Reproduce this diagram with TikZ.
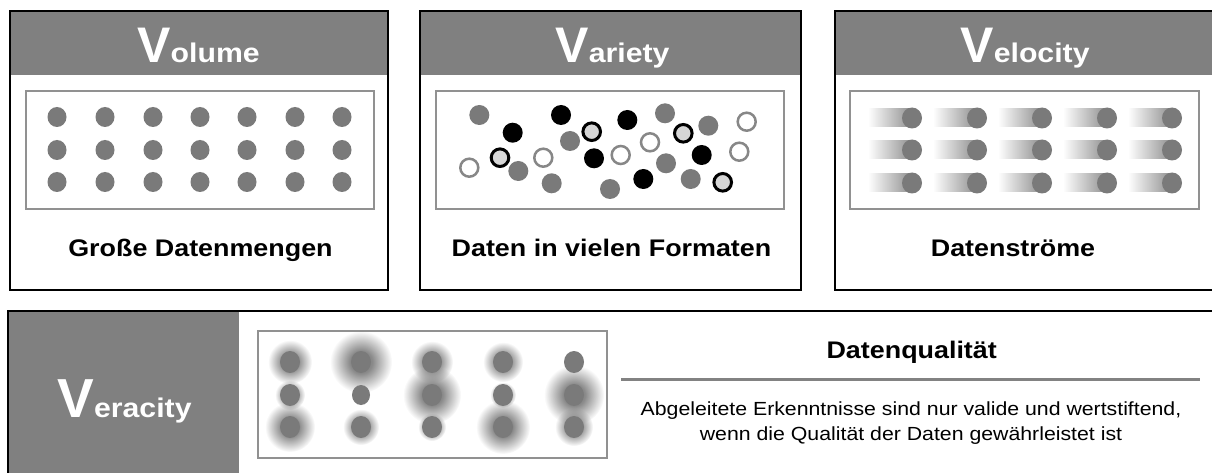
\documentclass[tikz,border=0pt]{standalone}
\usepackage{fontspec}
\setmainfont{Liberation Sans}[FakeStretch=1.12]
\newfontfamily\bigvfont{Liberation Sans}
\usetikzlibrary{fadings}

\definecolor{headgray}{RGB}{128,128,128}
\definecolor{dotgray}{RGB}{122,122,122}
\definecolor{framegray}{RGB}{145,145,145}
\definecolor{ringgray}{RGB}{135,135,135}
\definecolor{lightfill}{RGB}{214,214,214}
\definecolor{rulegray}{RGB}{130,130,130}

% soft radial halo: opaque core, fading out towards the rim
\pgfdeclareradialshading{haloshade}{\pgfpointorigin}{%
  color(0bp)=(white); color(9bp)=(white!88!black);
  color(25bp)=(black); color(50bp)=(black)}
\pgfdeclarefading{halofade}{\pgfuseshading{haloshade}}

% big initial V followed by the rest of the word
\newcommand\vword[2]{{\bigvfont\bfseries\fontsize{#2}{#2}\selectfont V}{\bfseries\fontsize{27}{27}\selectfont #1}}

\begin{document}
\begin{tikzpicture}[x=1pt,y=-1pt,
  panel/.style={draw=black,line width=2.5pt},
  header/.style={fill=headgray},
  frame/.style={draw=framegray,line width=1.5pt,fill=white},
  title/.style={anchor=base,inner sep=0pt,text=white},
  caption/.style={anchor=base,inner sep=0pt,font=\bfseries\fontsize{24}{24}\selectfont},
  body/.style={anchor=base,inner sep=0pt,font=\fontsize{19}{19}\selectfont},
  gdot/.style={fill=dotgray},
  bdot/.style={fill=black},
  ring/.style={draw=ringgray,line width=2.5pt,fill=white},
  lring/.style={draw=black,line width=3pt,fill=lightfill},
  halo/.style={fill=dotgray,path fading=halofade},
  trail/.style={left color=white,right color=dotgray!85}]

\useasboundingbox (0,0) rectangle (1212,473);
\fill[white] (0,0) rectangle (1212,473);

% ---------- Volume ----------
\fill[header] (10,11) rectangle (388,75);
\draw[panel] (10,11) rectangle (388,290);
\node[title] (tvol) at (198.5,63) {\vword{olume}{50}};
\draw[frame] (26,91) rectangle (374,209);
\foreach \x in {57,105,153,200,247,295,342}
  \foreach \y in {117,150,182}
    \fill[gdot] (\x,\y) ellipse [x radius=9.5,y radius=10];
\node[caption] (cvol) at (200.5,256.7) {Große Datenmengen};

% ---------- Variety ----------
\fill[header] (420,11) rectangle (801,75);
\draw[panel] (420,11) rectangle (801,290);
\node[title] (tvar) at (612.5,63) {\vword{ariety}{50}};
\draw[frame] (436,91) rectangle (784,209);
\foreach \x/\y in {479.3/115, 518.3/171, 551.7/183.3, 570/141, 610/189,
                   665/113.3, 666/163.3, 708.3/125.7, 690.7/179}
  \fill[gdot] (\x,\y) circle (10);
\foreach \x/\y in {512.7/132.7, 561/115, 594/158.3, 627.3/120, 643.3/179, 701.7/155}
  \fill[bdot] (\x,\y) circle (10);
\foreach \x/\y in {469.3/167.7, 543.3/157.7, 620.7/155, 650/142.3, 746.7/121.7, 739.3/151.7}
  \draw[ring] (\x,\y) circle (9);
\foreach \x/\y in {500/157.7, 591.7/131.7, 683.3/133.3, 722.7/182.3}
  \draw[lring] (\x,\y) circle (8.8);
\node[caption] (cvar) at (611.5,256.7) {Daten in vielen Formaten};

% ---------- Velocity ----------
\fill[header] (835,11) rectangle (1214,75);
\draw[panel] (835,11) rectangle (1214,290);
\node[title] (tvel) at (1025,63) {\vword{elocity}{50}};
\draw[frame] (850,91) rectangle (1199,209);
\foreach \x in {912,977,1042,1107,1172}
  \foreach \y in {118,150,183}{
    \shade[trail] (\x-44,\y-9) rectangle (\x,\y+9);
    \fill[gdot] (\x,\y) ellipse [x radius=10,y radius=10.5];
  }
\node[caption] (cvel) at (1013,256.7) {Datenströme};

% ---------- Veracity ----------
\fill[header] (8,311) rectangle (239,480);
\draw[panel] (8,311) rectangle (1214,480);
\node[title] (tver) at (124.5,417) {\vword{eracity}{55}};
\draw[frame] (258,331) rectangle (607,458);
% blurred halos around uncertain values
\foreach \x/\y/\r in {290/362/22, 290/395/15, 290/427/25,
                      361/362/31, 361/427/18,
                      432/362/21, 432/395/29, 432/427/14,
                      503/362/20, 503/395/13, 503/427/27,
                      574/395/30, 574/427/19}
  \fill[halo] (\x,\y) circle (\r);
\foreach \x/\y in {290/362, 290/395, 290/427, 361/362, 361/427,
                   432/362, 432/395, 432/427, 503/362, 503/395, 503/427,
                   574/362, 574/395, 574/427}
  \fill[gdot] (\x,\y) ellipse [x radius=10,y radius=11];
\fill[gdot] (361,395) ellipse [x radius=9,y radius=10];

\node[caption] (cqual) at (911.7,358.3) {Datenqualität};
\coordinate (rl) at (621,379);
\coordinate (rr) at (1200,379);
\draw[rulegray,line width=3pt] (rl) -- (rr);
\node[body] (b1) at (911,415) {Abgeleitete Erkenntnisse sind nur valide und wertstiftend,};
\node[body] (b2) at (911,440) {wenn die Qualität der Daten gewährleistet ist};
\end{tikzpicture}
\end{document}
